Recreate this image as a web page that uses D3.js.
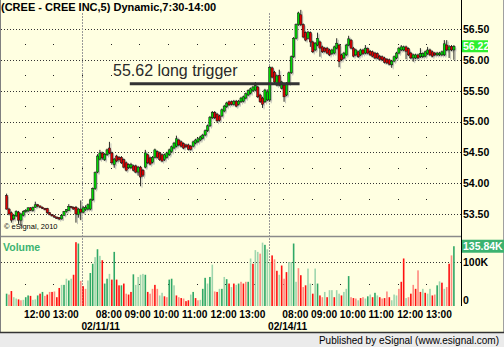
<!DOCTYPE html>
<html>
<head>
<meta charset="utf-8">
<script src="https://cdn.jsdelivr.net/npm/d3@7"></script>
<style>
body { margin: 0; background: #fff; }
svg { display: block; font-family: "Liberation Sans", Arial, sans-serif; }
</style>
</head>
<body>
<script>
// 5 minute bars, 02/10 11:20 -> 02/14 13:55 (three sessions back to back)
var opens = [
  53.80,53.58,53.52,53.42,53.47,53.53,53.40,53.48,53.54,53.55,53.60,53.56,53.61,53.65,53.63,53.61,
  53.59,53.59,53.52,53.49,53.47,53.45,53.44,53.42,53.48,53.54,53.56,53.62,53.61,53.61,53.49,53.58,
  // 02/11
  53.53,53.57,53.58,53.58,53.73,53.91,54.18,54.39,54.49,54.38,
  54.46,54.57,54.49,54.30,54.44,54.42,54.42,54.38,54.33,54.25,
  54.25,54.28,54.28,54.18,54.26,54.21,54.26,54.46,54.41,54.34,
  54.42,54.51,54.49,54.46,54.38,54.42,54.46,54.51,54.57,54.60,
  54.70,54.67,54.64,54.62,54.62,54.60,54.60,54.65,54.67,54.70,
  54.73,54.78,54.85,54.93,55.06,55.15,55.12,55.09,55.09,55.17,
  55.24,55.32,55.32,55.28,55.33,55.28,55.32,55.33,55.38,55.43,
  55.46,55.50,55.51,55.56,55.43,55.38,55.32,55.35,
  // 02/14
  55.35,55.87,55.80,55.59,55.75,55.54,55.59,55.43,55.62,55.79,
  56.05,56.35,56.57,56.73,56.57,56.44,56.35,56.44,56.29,56.16,
  56.24,56.29,56.21,56.19,56.19,56.16,56.10,56.11,56.19,56.24,
  56.08,56.03,56.08,56.24,56.32,56.19,56.08,56.13,56.08,56.16,
  56.11,56.18,56.14,56.13,56.11,56.10,56.06,56.05,56.03,56.01,
  56.00,55.92,55.98,56.03,56.11,56.16,56.16,56.21,56.18,56.11,
  56.03,56.03,56.08,56.05,56.05,56.06,56.10,56.16,56.13,56.11,
  56.08,56.08,56.08,56.08,56.24,56.16,56.22,56.16
];
var highs = [
  53.83,53.60,53.54,53.50,53.56,53.55,53.52,53.56,53.58,53.61,53.61,53.62,53.70,53.66,53.64,53.62,
  53.60,53.60,53.53,53.50,53.48,53.46,53.45,53.49,53.55,53.58,53.66,53.63,53.62,53.63,53.60,53.72,
  53.63,53.64,53.67,53.75,53.93,54.19,54.47,54.54,54.51,54.49,
  54.56,54.67,54.51,54.41,54.46,54.44,54.44,54.40,54.35,54.32,
  54.33,54.30,54.30,54.28,54.28,54.23,54.54,54.48,54.43,54.44,
  54.56,54.53,54.51,54.48,54.48,54.51,54.56,54.61,54.67,54.77,
  54.72,54.69,54.66,54.64,54.64,54.62,54.69,54.72,54.74,54.77,
  54.80,54.87,54.95,55.09,55.17,55.17,55.14,55.11,55.21,55.27,
  55.32,55.34,55.34,55.35,55.35,55.35,55.40,55.42,55.47,55.52,
  55.55,55.58,55.64,55.58,55.45,55.40,55.53,55.52,
  55.90,55.89,55.82,55.76,55.84,55.66,55.61,55.64,55.81,56.07,
  56.37,56.59,56.78,56.81,56.59,56.46,56.47,56.46,56.31,56.29,
  56.44,56.31,56.23,56.21,56.21,56.18,56.18,56.23,56.35,56.26,
  56.10,56.13,56.26,56.39,56.34,56.21,56.18,56.15,56.18,56.18,
  56.24,56.20,56.16,56.15,56.13,56.12,56.08,56.07,56.05,56.03,
  56.02,56.00,56.07,56.13,56.21,56.24,56.23,56.23,56.20,56.13,
  56.10,56.10,56.10,56.19,56.12,56.15,56.21,56.18,56.15,56.13,
  56.13,56.13,56.15,56.32,56.32,56.24,56.24,56.24
];
var lows = [
  53.57,53.48,53.36,53.40,53.45,53.34,53.30,53.46,53.52,53.53,53.55,53.54,53.60,53.61,53.60,53.58,
  53.56,53.50,53.48,53.46,53.44,53.42,53.40,53.41,53.47,53.52,53.55,53.59,53.57,53.36,53.44,53.40,
  53.51,53.55,53.56,53.56,53.71,53.89,54.16,54.37,54.38,54.36,
  54.44,54.47,54.30,54.25,54.34,54.35,54.31,54.24,54.19,54.23,
  54.23,54.19,54.16,54.12,53.95,54.10,54.24,54.31,54.29,54.32,
  54.40,54.40,54.36,54.34,54.36,54.40,54.44,54.49,54.55,54.58,
  54.60,54.58,54.55,54.57,54.53,54.53,54.58,54.63,54.65,54.68,
  54.71,54.76,54.83,54.91,55.04,55.04,54.98,55.00,55.07,55.15,
  55.22,55.25,55.26,55.26,55.23,55.26,55.30,55.31,55.36,55.41,
  55.44,55.48,55.49,55.38,55.30,55.22,55.30,55.33,
  55.32,55.70,55.62,55.57,55.57,55.52,55.32,55.41,55.60,55.77,
  56.03,56.33,56.55,56.55,56.35,56.30,56.33,56.21,56.11,56.14,
  56.22,56.05,56.11,56.12,56.09,56.06,56.08,56.09,56.17,55.88,
  55.98,56.01,56.06,56.22,56.17,56.04,56.06,56.03,56.06,56.08,
  56.09,56.09,56.06,56.04,56.01,56.01,55.99,55.98,55.94,55.93,
  55.91,55.87,55.96,56.01,56.09,56.14,56.14,56.01,56.06,56.01,
  55.97,56.01,56.01,56.03,56.03,56.04,56.08,56.06,56.04,56.06,
  56.06,56.06,56.06,56.06,56.14,56.03,56.14,56.00
];
var closes = [
  53.58,53.50,53.40,53.48,53.54,53.40,53.50,53.54,53.56,53.60,53.56,53.61,53.65,53.63,53.61,53.59,
  53.57,53.52,53.49,53.47,53.45,53.43,53.42,53.48,53.54,53.57,53.62,53.61,53.58,53.50,53.58,53.53,
  53.60,53.61,53.65,53.73,53.91,54.17,54.44,54.49,54.41,54.47,
  54.54,54.49,54.33,54.39,54.36,54.38,54.33,54.26,54.21,54.30,
  54.30,54.21,54.18,54.26,54.10,54.13,54.49,54.33,54.31,54.42,
  54.54,54.42,54.38,54.36,54.46,54.49,54.54,54.59,54.65,54.72,
  54.62,54.60,54.57,54.59,54.55,54.55,54.67,54.70,54.72,54.75,
  54.78,54.85,54.93,55.07,55.15,55.06,55.01,55.02,55.19,55.25,
  55.30,55.27,55.28,55.33,55.25,55.33,55.38,55.40,55.45,55.50,
  55.53,55.56,55.58,55.40,55.32,55.28,55.51,55.48,
  55.88,55.72,55.64,55.74,55.59,55.64,55.40,55.62,55.79,56.05,
  56.35,56.57,56.76,56.57,56.37,56.32,56.45,56.29,56.13,56.27,
  56.35,56.19,56.13,56.14,56.11,56.08,56.16,56.21,56.27,55.97,
  56.00,56.11,56.24,56.34,56.19,56.06,56.16,56.05,56.16,56.10,
  56.19,56.11,56.08,56.06,56.03,56.03,56.01,56.00,55.96,55.95,
  55.93,55.98,56.05,56.11,56.19,56.21,56.21,56.14,56.08,56.03,
  56.08,56.08,56.03,56.10,56.10,56.13,56.16,56.08,56.06,56.08,
  56.11,56.11,56.13,56.26,56.16,56.21,56.16,56.22
];
// volume in thousands
var volumes = [
  28,26,34,20,17,15,13,14,20,24,23,14,15,24,28,32,23,26,32,32,33,20,41,48,48,62,58,62,71,145,142,57,
  45,39,58,75,96,111,129,114,104,51,
  62,73,60,123,60,47,47,51,28,26,
  32,72,48,66,71,73,71,32,28,39,
  48,39,24,30,22,20,60,62,47,24,
  20,18,17,11,13,26,32,18,13,14,
  39,64,51,66,94,33,32,39,39,66,
  61,51,43,51,48,51,55,51,55,55,
  108,96,127,123,119,144,139,129,
  100,115,106,80,71,92,62,77,100,100,
  142,55,86,70,43,47,85,51,28,85,
  51,24,20,32,20,36,36,20,36,28,
  24,32,39,68,20,18,17,13,18,20,
  17,22,26,20,30,24,20,17,18,33,
  20,13,26,24,39,55,108,18,20,28,
  48,39,81,32,39,30,28,39,24,26,
  47,56,53,39,43,96,115,135.84
];
// volume bar class: G up, g up (weak), R down, r down (weak)
var volTones =
  "GrRggRrgGGRggGRGrRrRrRRgGgGgRRGr" +
  "RrgGGgGgRGGg" + "RGRRGRrRRGggggGRrrRrggRrGGgRrRrRRgG" + "RrgGGgGgrRgGgGRgRgGrRr" + "GgRggrgGg" +
  "gRrRgRrRgg" + "GgrRrRggRg" + "GRrgRggRgg" + "RggGrRrgRr" + "gGgRGgRrRr" + "RgggrRRgrR" + "rRrRgRggRr" + "GgRgrRrG";

var priceTicks = [53.5, 54, 54.5, 55, 55.5, 56, 56.5];
var volTicks = [0, 100];
var timeLabels = ["12:00","13:00","08:00","09:00","10:00","11:00","12:00","13:00","08:00","09:00","10:00","11:00","12:00","13:00"];
var timeBars = [8, 20, 38, 50, 62, 74, 86, 98, 116, 128, 140, 152, 164, 176];
var dateLabels = ["02/11/11", "02/14/11"];
var dateBars = [32, 110];
var trigger = 55.62;
var triggerBars = [52, 123];

var w = 504;
var h = 347;
var axisX = 461;

var svg = d3.select("body")
    .append("svg")
    .attr("width", w)
    .attr("height", h);

var N = closes.length;
var x = d3.scaleLinear().domain([0, N]).range([5.4, 5.4 + N * 2.392]);
var yP = d3.scaleLinear().domain([53.5, 56.5]).range([214, 29]);
var yV = d3.scaleLinear().domain([0, 100]).range([306, 262]);
var cx = function(i) { return x(i + 0.5); };

// backgrounds
svg.append("rect").attr("width", w).attr("height", 333).attr("fill", "#ffffe1");
svg.append("rect").attr("y", 333).attr("width", w).attr("height", 14).attr("fill", "#ebebeb");

// horizontal dotted grid
svg.append("g").selectAll("line")
    .data(priceTicks)
    .enter()
    .append("line")
    .attr("x1", 1).attr("x2", axisX)
    .attr("y1", function(d) { return Math.round(yP(d)) + 0.5; })
    .attr("y2", function(d) { return Math.round(yP(d)) + 0.5; })
    .attr("stroke", "#333")
    .attr("stroke-dasharray", "1,2");

svg.append("line")
    .attr("x1", 1).attr("x2", axisX)
    .attr("y1", Math.round(yV(100)) + 0.5).attr("y2", Math.round(yV(100)) + 0.5)
    .attr("stroke", "#333")
    .attr("stroke-dasharray", "1,2");

// sparse grid dots every hour
var dotBars = d3.range(8, N, 12);
var dotLevels = priceTicks.slice(1).map(function(d) { return d - 0.25; });
var dots = [];
dotBars.forEach(function(b) {
    dotLevels.forEach(function(p) { dots.push([x(b), yP(p)]); });
    dots.push([x(b), yV(50)]);
});
svg.append("g").selectAll("rect")
    .data(dots)
    .enter()
    .append("rect")
    .attr("x", function(d) { return Math.round(d[0]); })
    .attr("y", function(d) { return Math.round(d[1]); })
    .attr("width", 1).attr("height", 1)
    .attr("fill", "#222");

// day separators
svg.append("g").selectAll("line")
    .data(dateBars)
    .enter()
    .append("line")
    .attr("x1", function(d) { return Math.round(x(d)) + 0.5; })
    .attr("x2", function(d) { return Math.round(x(d)) + 0.5; })
    .attr("y1", 13).attr("y2", 306)
    .attr("stroke", "#999")
    .attr("stroke-dasharray", "2,1");

var bars = d3.range(N);

// candle shadows
svg.append("g").selectAll("rect")
    .data(bars)
    .enter()
    .append("rect")
    .attr("x", function(i) { return cx(i) + 0.6; })
    .attr("y", function(i) { return yP(Math.max(opens[i], closes[i])) + 1.5; })
    .attr("width", 1.8)
    .attr("height", function(i) { return Math.max(1, Math.abs(yP(opens[i]) - yP(closes[i]))); })
    .attr("fill", "#b9b9b0");

svg.append("g").selectAll("line")
    .data(bars)
    .enter()
    .append("line")
    .attr("x1", function(i) { return cx(i) + 1.5; })
    .attr("x2", function(i) { return cx(i) + 1.5; })
    .attr("y1", function(i) { return yP(highs[i]) + 1.5; })
    .attr("y2", function(i) { return yP(lows[i]) + 1.5; })
    .attr("stroke", "#c4c4bb");

// wicks
svg.append("g").selectAll("line")
    .data(bars)
    .enter()
    .append("line")
    .attr("x1", function(i) { return cx(i); })
    .attr("x2", function(i) { return cx(i); })
    .attr("y1", function(i) { return yP(highs[i]); })
    .attr("y2", function(i) { return yP(lows[i]); })
    .attr("stroke", "#111")
    .attr("stroke-width", 0.9);

// bodies
svg.append("g").selectAll("rect")
    .data(bars)
    .enter()
    .append("rect")
    .attr("x", function(i) { return cx(i) - 1.1; })
    .attr("y", function(i) { return yP(Math.max(opens[i], closes[i])); })
    .attr("width", 2.2)
    .attr("height", function(i) { return Math.max(0.8, Math.abs(yP(opens[i]) - yP(closes[i]))); })
    .attr("fill", function(i) { return closes[i] >= opens[i] ? "#00d800" : "#e00000"; })
    .attr("stroke", "#111")
    .attr("stroke-width", 0.5);

// volume bars
var toneColor = { G: "#2fa866", g: "#9fd6ae", R: "#ff1010", r: "#ff8a80" };
svg.append("g").selectAll("rect")
    .data(bars)
    .enter()
    .append("rect")
    .attr("x", function(i) { return cx(i) - 0.8; })
    .attr("y", function(i) { return yV(volumes[i]); })
    .attr("width", 1.6)
    .attr("height", function(i) { return yV(0) - yV(volumes[i]); })
    .attr("fill", function(i) { return toneColor[volTones[i]]; });

// trigger line and note
svg.append("line")
    .attr("x1", x(triggerBars[0])).attr("x2", x(triggerBars[1]))
    .attr("y1", yP(trigger) + 0.5).attr("y2", yP(trigger) + 0.5)
    .attr("stroke", "#333")
    .attr("stroke-width", 3);

svg.append("text")
    .attr("x", 113).attr("y", 76)
    .attr("font-size", 16)
    .attr("fill", "#2a2a2a")
    .text(trigger.toFixed(2) + " long trigger");

// frame lines
svg.append("line").attr("x1", 0).attr("x2", axisX).attr("y1", 236.5).attr("y2", 236.5)
    .attr("stroke", "#8a8a8a").attr("stroke-width", 1.5);
svg.append("line").attr("x1", axisX + 0.5).attr("x2", axisX + 0.5).attr("y1", 0).attr("y2", 306)
    .attr("stroke", "#000");
svg.append("line").attr("x1", 0.5).attr("x2", 0.5).attr("y1", 0).attr("y2", 333)
    .attr("stroke", "#808080");
svg.append("line").attr("x1", 503.5).attr("x2", 503.5).attr("y1", 0).attr("y2", 333)
    .attr("stroke", "#a0a0a0");
svg.append("line").attr("x1", 0).attr("x2", w).attr("y1", 332.5).attr("y2", 332.5)
    .attr("stroke", "#333").attr("stroke-width", 1.5);

// price axis
var priceAxis = d3.axisRight(yP)
    .tickValues(priceTicks)
    .tickFormat(d3.format(".2f"))
    .tickSize(0)
    .tickPadding(2);
var pa = svg.append("g")
    .attr("transform", "translate(" + axisX + ",0)")
    .call(priceAxis);
pa.select(".domain").remove();
pa.selectAll("text")
    .attr("font-family", "Liberation Sans, Arial, sans-serif")
    .attr("font-size", 10.5)
    .attr("font-weight", "bold")
    .attr("fill", "#000");

// last price box
var last = closes[N - 1];
svg.append("rect")
    .attr("x", axisX + 1).attr("y", yP(last) - 6)
    .attr("width", 26).attr("height", 12)
    .attr("fill", "#2ef02e");
svg.append("text")
    .attr("x", axisX + 2).attr("y", yP(last)).attr("dy", "0.35em")
    .attr("font-size", 10.5).attr("font-weight", "bold")
    .attr("fill", "#fff")
    .text(last.toFixed(2));

// volume axis
svg.append("g").selectAll("text")
    .data(volTicks)
    .enter()
    .append("text")
    .attr("x", axisX + 2)
    .attr("y", function(d) { return Math.min(yV(d), 300); })
    .attr("dy", "0.35em")
    .attr("font-size", 10.5).attr("font-weight", "bold")
    .text(function(d) { return d === 0 ? "0" : d + "K"; });

var maxVol = volumes[N - 1];
svg.append("rect")
    .attr("x", axisX + 1).attr("y", yV(maxVol) - 6.5)
    .attr("width", 42).attr("height", 13)
    .attr("fill", "#3cb371");
svg.append("text")
    .attr("x", axisX + 2).attr("y", yV(maxVol)).attr("dy", "0.35em")
    .attr("font-size", 10.5).attr("font-weight", "bold")
    .attr("fill", "#fff")
    .text(maxVol.toFixed(2) + "K");

// time axis
svg.append("g").selectAll("text")
    .data(timeBars)
    .enter()
    .append("text")
    .attr("x", function(d) { return x(d) - 0.5; })
    .attr("y", 318)
    .attr("font-size", 10.2).attr("font-weight", "bold")
    .text(function(d, i) { return timeLabels[i]; });

svg.append("g").selectAll("text")
    .data(dateBars)
    .enter()
    .append("text")
    .attr("x", function(d) { return x(d) - 0.5; })
    .attr("y", 330)
    .attr("font-size", 10.2).attr("font-weight", "bold")
    .text(function(d, i) { return dateLabels[i]; });

// labels
svg.append("text")
    .attr("x", 1).attr("y", 11)
    .attr("font-size", 11).attr("font-weight", "bold")
    .text("(CREE - CREE INC,5) Dynamic,7:30-14:00");

svg.append("text")
    .attr("x", 3).attr("y", 250.5)
    .attr("font-size", 10.5).attr("font-weight", "bold")
    .attr("fill", "#3cb371")
    .text("Volume");

svg.append("text")
    .attr("x", 4).attr("y", 229)
    .attr("font-size", 7.5)
    .text("© eSignal, 2010");

svg.append("text")
    .attr("x", 499).attr("y", 344)
    .attr("text-anchor", "end")
    .attr("font-size", 10)
    .text("Published by eSignal (www.esignal.com)");
</script>
</body>
</html>
